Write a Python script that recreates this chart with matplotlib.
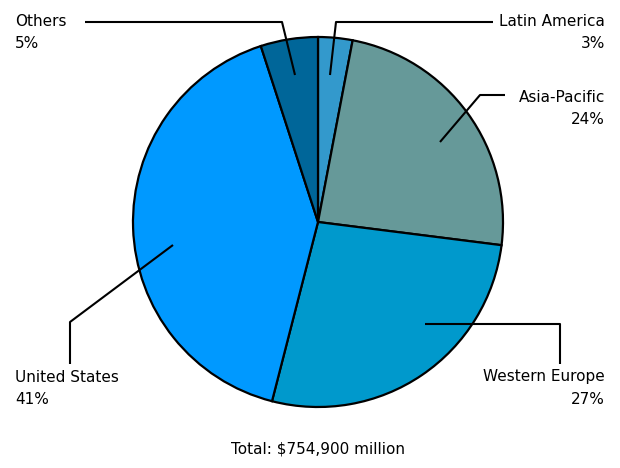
import matplotlib
matplotlib.use("Agg")
import matplotlib.pyplot as plt

# Dane
regions = ["Latin America", "Asia-Pacific", "Western Europe", "United States", "Others"]
shares = [3, 24, 27, 41, 5]
colors = ["#3399cc", "#669999", "#0099cc", "#0099ff", "#006699"]
total_label = "Total: $754,900 million"

W, H = 620, 468

fig = plt.figure(figsize=(W / 100, H / 100), dpi=100)
ax = fig.add_axes([0, 0, 1, 1])

# y w pikselach od góry -> współrzędne osi
def py(y):
    return H - y

ax.pie(shares, colors=colors, startangle=90, counterclock=False,
       center=(318, py(222)), radius=185,
       wedgeprops=dict(edgecolor="black", linewidth=1.6))

# pie() ustawia własne limity, więc dopiero teraz
ax.set_xlim(0, W)
ax.set_ylim(0, H)
ax.set_aspect("equal")
ax.axis("off")

fs = 11
# linie odniesienia (x, y w pikselach)
leaders = {
    "Latin America": [(493, 22), (336, 22), (330, 75)],
    "Asia-Pacific": [(505, 95), (480, 95), (440, 142)],
    "Western Europe": [(560, 364), (560, 324), (425, 324)],
    "United States": [(70, 364), (70, 322), (173, 245)],
    "Others": [(85, 22), (282, 22), (295, 75)],
}
label_pos = {
    "Latin America": (605, 21, "right"),
    "Asia-Pacific": (605, 97, "right"),
    "Western Europe": (605, 377, "right"),
    "United States": (15, 377, "left"),
    "Others": (15, 21, "left"),
}

for name, val in zip(regions, shares):
    pts = leaders[name]
    ax.plot([p[0] for p in pts], [py(p[1]) for p in pts], color="black", lw=1.5,
            solid_capstyle="butt")
    x, y, ha = label_pos[name]
    ax.text(x, py(y), name, ha=ha, va="center", fontsize=fs, family="DejaVu Sans")
    ax.text(x, py(y + 23), f"{val}%", ha=ha, va="center", fontsize=fs,
            family="DejaVu Sans")

ax.text(318, py(449), total_label, ha="center", va="center", fontsize=fs,
        family="DejaVu Sans")

fig.savefig("out.png", dpi=100)
